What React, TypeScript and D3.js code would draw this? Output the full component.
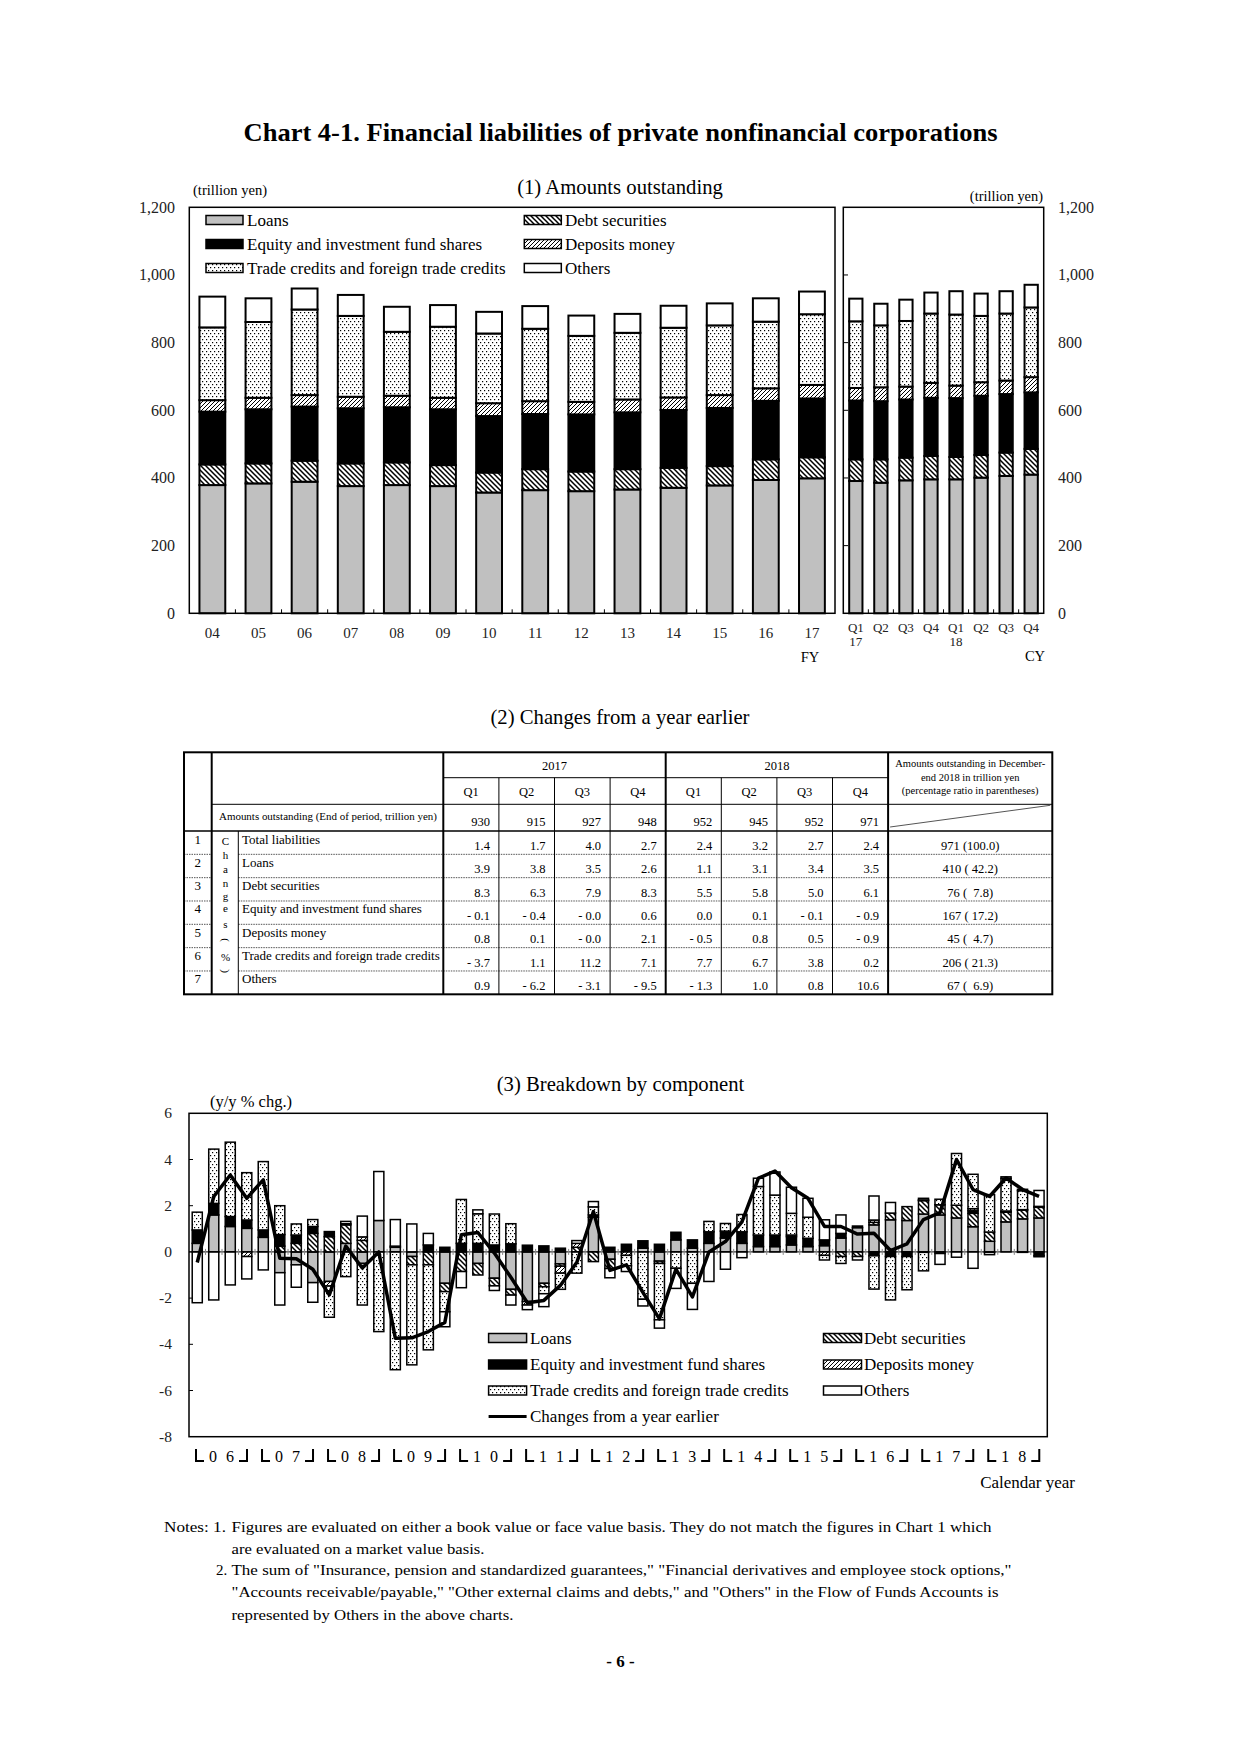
import React from "react";
import * as d3 from "d3";

const W = 1240;
const H = 1754;
const FONT = "'Liberation Serif','Times New Roman',Times,serif";

// ---------- Chart (1) data: amounts outstanding (trillion yen) ----------
const fyCats = ["04", "05", "06", "07", "08", "09", "10", "11", "12", "13", "14", "15", "16", "17"];
const fyLoans = [379, 384, 389, 376, 379, 376, 357, 364, 361, 366, 371, 378, 394, 399];
const fyDebt = [61, 59, 62, 67, 67, 62, 59, 62, 58, 60, 59, 57, 61, 62];
const fyEquity = [156, 160, 160, 163, 163, 165, 167, 163, 169, 168, 171, 172, 173, 174];
const fyDeposits = [34, 34, 34, 34, 34, 34, 38, 38, 37, 38, 37, 38, 37, 40];
const fyTrade = [215, 224, 253, 239, 189, 210, 206, 214, 195, 197, 206, 206, 197, 209];
const fyOthers = [91, 70, 62, 62, 74, 64, 64, 67, 60, 56, 65, 65, 69, 67];

const qCats = ["17Q1", "17Q2", "17Q3", "17Q4", "18Q1", "18Q2", "18Q3", "18Q4"];
const qTopLabels = ["Q1", "Q2", "Q3", "Q4", "Q1", "Q2", "Q3", "Q4"];
const qSubLabels = ["17", "", "", "", "18", "", "", ""];
const qLoans = [391, 386, 393, 396, 396, 401, 406, 410];
const qDebt = [64, 69, 67, 69, 66, 67, 69, 76];
const qEquity = [174, 172, 172, 172, 174, 175, 173, 167];
const qDeposits = [37, 41, 38, 44, 37, 40, 40, 45];
const qTrade = [197, 183, 194, 205, 210, 196, 198, 206];
const qOthers = [67, 64, 63, 62, 69, 66, 66, 67];

const amountTicks = [0, 200, 400, 600, 800, 1000, 1200];

// ---------- Table (2) data ----------
const tableYears = ["2017", "2018"];
const tableQuarters = ["Q1", "Q2", "Q3", "Q4", "Q1", "Q2", "Q3", "Q4"];
const amountsOutstanding = [930, 915, 927, 948, 952, 945, 952, 971];
const rowLabels = [
  "Total liabilities",
  "Loans",
  "Debt securities",
  "Equity and investment fund shares",
  "Deposits money",
  "Trade credits and foreign trade credits",
  "Others",
];
const chgTotal = [1.4, 1.7, 4.0, 2.7, 2.4, 3.2, 2.7, 2.4];
const chgLoans = [3.9, 3.8, 3.5, 2.6, 1.1, 3.1, 3.4, 3.5];
const chgDebt = [8.3, 6.3, 7.9, 8.3, 5.5, 5.8, 5.0, 6.1];
const chgEquity = [-0.1, -0.4, -0.0, 0.6, 0.0, 0.1, -0.1, -0.9];
const chgDeposits = [0.8, 0.1, -0.0, 2.1, -0.5, 0.8, 0.5, -0.9];
const chgTrade = [-3.7, 1.1, 11.2, 7.1, 7.7, 6.7, 3.8, 0.2];
const chgOthers = [0.9, -6.2, -3.1, -9.5, -1.3, 1.0, 0.8, 10.6];
const dec2018Amount = [971, 410, 76, 167, 45, 206, 67];
const dec2018Share = [100.0, 42.2, 7.8, 17.2, 4.7, 21.3, 6.9];

// ---------- Chart (3) data: contributions, y/y % chg, 2006Q1-2018Q4 ----------
const c3Years = ["06", "07", "08", "09", "10", "11", "12", "13", "14", "15", "16", "17", "18"];
const c3Loans = [0.37, 1.6, 1.1, 1.02, 0.63, -0.9, -0.56, -1.33, -1.28, 0.37, -0.5, 1.36, 0.2, -0.2, 0, -1.36, 0, -0.5, -1.14, -1.62, -2.15, -1.36, -0.52, 0, 1.5, -0.32, 0, 0.16, -0.4, 0.52, 0.16, 0.37, 0.6, 0.37, 0.23, 0.23, 0.3, 0.23, 0.27, 0.6, 1.05, 1.17, 1.39, 1.36, 1.64, 1.6, 1.47, 1.09, 0.46, 1.3, 1.43, 1.47];
const c3Debt = [0, 0, 0, 0, 0, 0.25, 0.37, 0.8, 0.66, 0.8, 0.5, 0, 0, -0.36, -0.56, -0.36, -0.85, -0.5, -0.33, -0.25, 0, -0.15, -0.1, 0.2, -0.42, -0.4, 0, 0, -0.1, 0, 0, 0, 0, 0, 0, 0, 0, 0, 0, -0.2, -0.2, 0.11, 0.29, 0.6, 0.58, 0.44, 0.55, 0.58, 0.4, 0.42, 0.38, 0.46];
const c3Equity = [0.58, 0.5, 0.43, 0.36, 0.32, 0.5, 0.36, 0.3, 0.22, 0.05, 0, 0, 0.05, 0, 0.3, 0.2, 0.37, 0.37, 0.3, 0.35, 0.29, 0.26, 0.16, 0, 0.1, 0.2, 0.33, 0.32, 0.33, 0.33, 0.36, 0.5, 0.3, 0.5, 0.5, 0.5, 0.36, 0.36, 0.25, 0.2, 0.07, -0.17, -0.2, -0.2, -0.02, -0.07, 0, 0.11, 0, 0.02, -0.02, -0.17];
const c3Deposits = [0, 0, 0, -0.2, 0, 0, 0, 0, -0.2, 0, 0.15, 0, 0, 0, 0, 0, 0, 0, 0, 0, -0.15, 0, -0.3, 0.17, 0, 0, -0.15, 0, 0, 0, 0, 0, 0, 0, 0, 0, 0.07, 0, -0.15, 0, 0, 0.1, 0, 0, 0.03, 0, 0, 0.09, -0.02, 0.03, 0.02, -0.04];
const c3Trade = [0.77, 2.35, 3.22, 2.05, 2.96, 1.25, 0.48, 0.3, -1.35, -1.07, -1.8, -3.45, -5.1, -4.33, -3.68, -0.87, 1.9, 1.28, 1.34, 0.87, 0, -0.3, -0.7, -0.92, 0.35, 0, -0.45, -2.05, -2.44, -0.71, -1.36, 0.45, 0.33, 0.75, 2.1, 1.73, 0.94, 0.91, -0.2, -0.3, 0, -1.44, -1.88, -1.44, -0.8, 0.24, 2.24, 1.49, 1.62, 1.41, 0.82, 0.04];
const c3Others = [-2.2, -2.08, -1.43, -0.97, -0.78, -1.4, -0.97, -0.85, 0, 0.1, 0.9, 2.12, 1.15, 1.21, 0.5, -0.65, -0.7, 0.17, -0.2, -0.43, -0.2, -0.56, 0, 0.12, 0.23, -0.4, -0.25, -0.29, -0.36, -0.87, -1.13, -1.28, -0.75, -0.25, 0.36, 1.0, 1.13, 0.82, 0.87, 0.8, -0.15, 1.04, 0.46, 0, 0.07, -0.47, -0.23, -0.71, -0.1, 0.07, 0.06, 0.69];
const c3Total = [-0.46, 2.4, 3.33, 2.32, 3.12, -0.27, -0.3, -0.75, -1.86, 0.25, -0.7, 0.0, -3.74, -3.72, -3.45, -3.05, 0.74, 0.84, -0.05, -1.1, -2.2, -2.1, -1.45, -0.45, 1.75, -0.8, -0.56, -1.75, -2.9, -0.75, -1.95, 0.0, 0.45, 1.3, 3.19, 3.5, 2.78, 2.32, 1.1, 1.1, 0.77, 0.81, 0.06, 0.35, 1.4, 1.7, 4.0, 2.7, 2.4, 3.2, 2.7, 2.4];
const c3Ticks = [6, 4, 2, 0, -2, -4, -6, -8];

const keys = ["loans", "debt", "equity", "deposits", "trade", "others"];
const seriesNames: Record<string, string> = {
  loans: "Loans",
  debt: "Debt securities",
  equity: "Equity and investment fund shares",
  deposits: "Deposits money",
  trade: "Trade credits and foreign trade credits",
  others: "Others",
};
const fills: Record<string, string> = {
  loans: "#c0c0c0",
  debt: "url(#pDebt)",
  equity: "#000",
  deposits: "url(#pDep)",
  trade: "url(#pTrade)",
  others: "#fff",
};

function buildRows(cats: string[], cols: number[][]) {
  return cats.map((c, i) => {
    const r: any = { cat: c };
    keys.forEach((k, j) => (r[k] = cols[j][i]));
    return r;
  });
}

const fmtChg = (v: number) => (v < 0 || Object.is(v, -0) ? "- " + Math.abs(v).toFixed(1) : v.toFixed(1));
const fmtShare = (a: number, s: number) =>
  `${a} (${s >= 100 ? s.toFixed(1) : s >= 10 ? " " + s.toFixed(1) : "  " + s.toFixed(1)})`;

export default function App() {
  const stack = d3.stack<any>().keys(keys).offset(d3.stackOffsetDiverging);

  // ---- chart 1 ----
  const y1 = d3.scaleLinear().domain([0, 1200]).range([613.3, 207.3]);
  const xFY = d3.scaleBand<string>().domain(fyCats).range([189.3, 835]).paddingInner(0.44).paddingOuter(0.22);
  const xQ = d3.scaleBand<string>().domain(qCats).range([843.3, 1043.7]).paddingInner(0.47).paddingOuter(0.235);
  const fyStack = stack(buildRows(fyCats, [fyLoans, fyDebt, fyEquity, fyDeposits, fyTrade, fyOthers]));
  const qStack = stack(buildRows(qCats, [qLoans, qDebt, qEquity, qDeposits, qTrade, qOthers]));

  // ---- chart 3 ----
  const idx = d3.range(c3Total.length).map(String);
  const y3 = d3.scaleLinear().domain([-8, 6]).range([1436.7, 1113.3]);
  const x3 = d3.scaleBand<string>().domain(idx).range([189, 1047.3]).paddingInner(0.39).paddingOuter(0.195);
  const c3Stack = stack(buildRows(idx, [c3Loans, c3Debt, c3Equity, c3Deposits, c3Trade, c3Others]));
  const line3 = d3
    .line<number>()
    .x((_, i) => (x3(String(i)) as number) + x3.bandwidth() / 2)
    .y((v) => y3(v));
  const qStep = (1047.3 - 189) / c3Total.length;

  // ---- table ----
  const tX0 = 184, tX1 = 211.7, tX2 = 238.3, tX3 = 443.3, colW = 55.6;
  const tXR = tX3 + 8 * colW;
  const tXEnd = 1052.3;
  const tY0 = 752.3, tY1 = 777.7, tY2 = 804.3, tY3 = 831, rowH = 23.33;
  const tYEnd = tY3 + 7 * rowH;
  const chgRows = [chgTotal, chgLoans, chgDebt, chgEquity, chgDeposits, chgTrade, chgOthers];
  const changesLetters: [string, number, boolean][] = [
    ["C", 845, false], ["h", 859, false], ["a", 873, false], ["n", 887, false], ["g", 900, false],
    ["e", 912, false], ["s", 928, false], ["(", 943, true], ["%", 961, false], [")", 974, true],
  ];

  const bars = (stk: any[], x: d3.ScaleBand<string>, y: d3.ScaleLinear<number, number>, sw: number) =>
    stk.map((s) => (
      <g key={s.key}>
        {s.map((d: any) => {
          const top = y(Math.max(d[0], d[1]));
          const bot = y(Math.min(d[0], d[1]));
          if (bot - top < 0.01) return null;
          return (
            <rect
              key={d.data.cat}
              x={x(d.data.cat)}
              y={top}
              width={x.bandwidth()}
              height={bot - top}
              fill={fills[s.key]}
              stroke="#000"
              strokeWidth={sw}
            />
          );
        })}
      </g>
    ));

  const legend1Left = ["loans", "equity", "trade"];
  const legend1Right = ["debt", "deposits", "others"];
  const legend1Y = [220, 244, 268];
  const legend3Y = [1338, 1364.5, 1390.5, 1416.5];

  return (
    <svg
      width={W}
      height={H}
      style={{ position: "absolute", left: 0, top: 0, background: "#fff" }}
      fontFamily={FONT}
    >
      <defs>
        <pattern id="pDebt" patternUnits="userSpaceOnUse" width="5" height="5">
          <rect width="5" height="5" fill="#fff" />
          <path d="M0,0 L5,5 M-1,4 L1,6 M4,-1 L6,1" stroke="#000" strokeWidth="1.5" />
        </pattern>
        <pattern id="pDep" patternUnits="userSpaceOnUse" width="4" height="4">
          <rect width="4" height="4" fill="#fff" />
          <path d="M0,4 L4,0 M-1,1 L1,-1 M3,5 L5,3" stroke="#000" strokeWidth="1" />
        </pattern>
        <pattern id="pTrade" patternUnits="userSpaceOnUse" width="4" height="6">
          <rect width="4" height="6" fill="#fff" />
          <rect x="0" y="0" width="1.2" height="1.2" fill="#000" />
          <rect x="2" y="3" width="1.2" height="1.2" fill="#000" />
        </pattern>
      </defs>
      <rect width={W} height={H} fill="#fff" />

      {/* Title */}
      <text x={620.5} y={141} textAnchor="middle" fontSize={25} fontWeight="bold" textLength={754} lengthAdjust="spacingAndGlyphs">
        Chart 4-1. Financial liabilities of private nonfinancial corporations
      </text>

      {/* ===== Chart (1) ===== */}
      <text x={620} y={194} textAnchor="middle" fontSize={20.7}>(1) Amounts outstanding</text>
      <text x={193} y={195} fontSize={14.6}>(trillion yen)</text>
      <text x={1043} y={201} textAnchor="end" fontSize={14.4}>(trillion yen)</text>
      {amountTicks.map((t) => (
        <g key={t}>
          <text x={175} y={y1(t) + 5.5} textAnchor="end" fontSize={16} fill="#222">{d3.format(",")(t)}</text>
          <text x={1058} y={y1(t) + 5.5} textAnchor="start" fontSize={16} fill="#222">{d3.format(",")(t)}</text>
          {t > 0 && t < 1200 && <line x1={843.3} x2={848} y1={y1(t)} y2={y1(t)} stroke="#000" strokeWidth={1} />}
        </g>
      ))}
      {bars(fyStack, xFY, y1, 2)}
      {bars(qStack, xQ, y1, 2)}
      {/* category ticks */}
      {fyCats.slice(1).map((c) => {
        const xx = (xFY(c) as number) - (xFY.step() * xFY.paddingInner()) / 2;
        return <line key={c} x1={xx} x2={xx} y1={y1(0)} y2={y1(0) - 4} stroke="#000" strokeWidth={1} />;
      })}
      {qCats.slice(1).map((c) => {
        const xx = (xQ(c) as number) - (xQ.step() * xQ.paddingInner()) / 2;
        return <line key={c} x1={xx} x2={xx} y1={y1(0)} y2={y1(0) - 4} stroke="#000" strokeWidth={1} />;
      })}
      <rect x={189.3} y={207.3} width={835 - 189.3} height={613.3 - 207.3} fill="none" stroke="#000" strokeWidth={1.5} />
      <rect x={843.3} y={207.3} width={1043.7 - 843.3} height={613.3 - 207.3} fill="none" stroke="#000" strokeWidth={1.5} />
      {fyCats.map((c) => (
        <text key={c} x={(xFY(c) as number) + xFY.bandwidth() / 2} y={638} textAnchor="middle" fontSize={15} fill="#222">
          {c}
        </text>
      ))}
      {qCats.map((c, i) => (
        <g key={c}>
          <text x={(xQ(c) as number) + xQ.bandwidth() / 2} y={632} textAnchor="middle" fontSize={13} fill="#222">
            {qTopLabels[i]}
          </text>
          {qSubLabels[i] && (
            <text x={(xQ(c) as number) + xQ.bandwidth() / 2} y={646} textAnchor="middle" fontSize={13} fill="#222">
              {qSubLabels[i]}
            </text>
          )}
        </g>
      ))}
      <text x={810} y={662} textAnchor="middle" fontSize={14.5}>FY</text>
      <text x={1035} y={661} textAnchor="middle" fontSize={14.5}>CY</text>
      {/* legend 1 */}
      {legend1Left.map((k, i) => (
        <g key={k}>
          <rect x={206} y={legend1Y[i] - 4.5} width={37} height={9} fill={fills[k]} stroke="#000" strokeWidth={1.5} />
          <text x={247} y={legend1Y[i] + 5.5} fontSize={17}>{seriesNames[k]}</text>
        </g>
      ))}
      {legend1Right.map((k, i) => (
        <g key={k}>
          <rect x={524.3} y={legend1Y[i] - 4.5} width={37} height={9} fill={fills[k]} stroke="#000" strokeWidth={1.5} />
          <text x={565} y={legend1Y[i] + 5.5} fontSize={17}>{seriesNames[k]}</text>
        </g>
      ))}

      {/* ===== Table (2) ===== */}
      <text x={620} y={724} textAnchor="middle" fontSize={20.7}>(2) Changes from a year earlier</text>
      <g fontSize={12.5}>
        {/* dotted separators */}
        {d3.range(1, 7).map((k) => (
          <g key={k}>
            <line x1={tX0} x2={tX1} y1={tY3 + k * rowH} y2={tY3 + k * rowH} stroke="#555" strokeWidth={1} strokeDasharray="1.5,1" />
            <line x1={tX2} x2={tXEnd} y1={tY3 + k * rowH} y2={tY3 + k * rowH} stroke="#555" strokeWidth={1} strokeDasharray="1.5,1" />
          </g>
        ))}
        <line x1={tX3} x2={tXR} y1={tY1} y2={tY1} stroke="#000" strokeWidth={1} />
        <line x1={tX1} x2={tXEnd} y1={tY2} y2={tY2} stroke="#000" strokeWidth={1} />
        <line x1={tX0} x2={tXEnd} y1={tY3} y2={tY3} stroke="#000" strokeWidth={1.5} />
        <line x1={tX1} x2={tX1} y1={tY0} y2={tYEnd} stroke="#000" strokeWidth={2} />
        <line x1={tX2} x2={tX2} y1={tY3} y2={tYEnd} stroke="#000" strokeWidth={1} />
        <line x1={tX3} x2={tX3} y1={tY0} y2={tYEnd} stroke="#000" strokeWidth={2} />
        {d3.range(1, 8).map((k) => (
          <line
            key={k}
            x1={tX3 + k * colW}
            x2={tX3 + k * colW}
            y1={k === 4 ? tY0 : tY1}
            y2={tYEnd}
            stroke="#000"
            strokeWidth={k === 4 ? 2 : 1}
          />
        ))}
        <line x1={tXR} x2={tXR} y1={tY0} y2={tYEnd} stroke="#000" strokeWidth={2} />
        <rect x={tX0} y={tY0} width={tXEnd - tX0} height={tYEnd - tY0} fill="none" stroke="#000" strokeWidth={2} />
        <line x1={tXR + 2} x2={tXEnd - 2} y1={tY3 - 4} y2={tY2 + 1} stroke="#555" strokeWidth={1} />

        {tableYears.map((yr, i) => (
          <text key={yr} x={tX3 + (i * 4 + 2) * colW} y={770} textAnchor="middle">{yr}</text>
        ))}
        {tableQuarters.map((q, i) => (
          <text key={i} x={tX3 + (i + 0.5) * colW} y={796} textAnchor="middle">{q}</text>
        ))}
        <text x={(tXR + tXEnd) / 2} y={767} textAnchor="middle" fontSize={10.5}>Amounts outstanding in December-</text>
        <text x={(tXR + tXEnd) / 2} y={780.5} textAnchor="middle" fontSize={10.5}>end 2018 in trillion yen</text>
        <text x={(tXR + tXEnd) / 2} y={794} textAnchor="middle" fontSize={10.5}>(percentage ratio in parentheses)</text>
        <text x={219} y={820} fontSize={10.5} textLength={218} lengthAdjust="spacingAndGlyphs">
          Amounts outstanding (End of period, trillion yen)
        </text>
        {amountsOutstanding.map((v, i) => (
          <text key={i} x={tX3 + (i + 1) * colW - 9} y={826} textAnchor="end">{v}</text>
        ))}
        {rowLabels.map((lab, r) => (
          <g key={lab}>
            <text x={(tX0 + tX1) / 2} y={tY3 + r * rowH + 12.5} textAnchor="middle" fontSize={13}>{r + 1}</text>
            <text x={242} y={tY3 + r * rowH + 12.5} fontSize={13}>{lab}</text>
            {chgRows[r].map((v, i) => (
              <text key={i} x={tX3 + (i + 1) * colW - 9} y={tY3 + r * rowH + 19} textAnchor="end" style={{ whiteSpace: "pre" }}>
                {fmtChg(chgRows[r][i])}
              </text>
            ))}
            <text x={(tXR + tXEnd) / 2} y={tY3 + r * rowH + 19} textAnchor="middle" style={{ whiteSpace: "pre" }}>
              {fmtShare(dec2018Amount[r], dec2018Share[r])}
            </text>
          </g>
        ))}
        {changesLetters.map(([ch, yy, rot], i) =>
          rot ? (
            <text key={i} x={0} y={0} fontSize={11} textAnchor="middle" transform={`translate(225.5,${yy - 3}) rotate(90)`} dy="3.5">
              {ch}
            </text>
          ) : (
            <text key={i} x={225.5} y={yy} fontSize={11} textAnchor="middle">{ch}</text>
          )
        )}
      </g>

      {/* ===== Chart (3) ===== */}
      <text x={620.5} y={1091} textAnchor="middle" fontSize={20.7}>(3) Breakdown by component</text>
      <text x={210} y={1107} fontSize={16.5}>(y/y % chg.)</text>
      {c3Ticks.map((t) => (
        <g key={t}>
          <text x={172} y={y3(t) + 5} textAnchor="end" fontSize={15.5} fill="#222">{t}</text>
          {t !== 6 && t !== -8 && <line x1={189} x2={193} y1={y3(t)} y2={y3(t)} stroke="#000" strokeWidth={1} />}
        </g>
      ))}
      {bars(c3Stack, x3, y3, 1.5)}
      <line x1={189} x2={1047.3} y1={y3(0)} y2={y3(0)} stroke="#000" strokeWidth={1} />
      {d3.range(1, c3Total.length).map((k) => (
        <line key={k} x1={189 + k * qStep} x2={189 + k * qStep} y1={y3(0) - 3} y2={y3(0) + 3} stroke="#888" strokeWidth={1} />
      ))}
      <path d={line3(c3Total) as string} fill="none" stroke="#000" strokeWidth={3.5} strokeLinejoin="round" />
      <rect x={189} y={1113.3} width={1047.3 - 189} height={1436.7 - 1113.3} fill="none" stroke="#000" strokeWidth={1.5} />
      {/* legend 3 */}
      {["loans", "equity", "trade"].map((k, i) => (
        <g key={k}>
          <rect x={488.6} y={legend3Y[i] - 4.5} width={38} height={9} fill={fills[k]} stroke="#000" strokeWidth={1.5} />
          <text x={530} y={legend3Y[i] + 5.5} fontSize={17}>{seriesNames[k]}</text>
        </g>
      ))}
      <line x1={488.6} x2={526.6} y1={legend3Y[3]} y2={legend3Y[3]} stroke="#000" strokeWidth={3} />
      <text x={530} y={legend3Y[3] + 5.5} fontSize={17}>Changes from a year earlier</text>
      {["debt", "deposits", "others"].map((k, i) => (
        <g key={k}>
          <rect x={823.5} y={legend3Y[i] - 4.5} width={38} height={9} fill={fills[k]} stroke="#000" strokeWidth={1.5} />
          <text x={864} y={legend3Y[i] + 5.5} fontSize={17}>{seriesNames[k]}</text>
        </g>
      ))}
      {/* year labels with brackets */}
      {c3Years.map((yr, j) => {
        const x0 = 189 + 4 * qStep * j;
        return (
          <g key={yr}>
            <path d={`M${x0 + 7},1449 V1461 H${x0 + 15}`} fill="none" stroke="#000" strokeWidth={2} />
            <path d={`M${x0 + 58},1449 V1461 H${x0 + 50}`} fill="none" stroke="#000" strokeWidth={2} />
            <text x={x0 + 24} y={1462} textAnchor="middle" fontSize={16}>{yr[0]}</text>
            <text x={x0 + 41} y={1462} textAnchor="middle" fontSize={16}>{yr[1]}</text>
          </g>
        );
      })}
      <text x={1075} y={1488} textAnchor="end" fontSize={17}>Calendar year</text>

      {/* Notes */}
      <g fontSize={15}>
        <text x={164} y={1532} textLength={62} lengthAdjust="spacingAndGlyphs">Notes: 1.</text>
        <text x={231.5} y={1532} textLength={760} lengthAdjust="spacingAndGlyphs">
          Figures are evaluated on either a book value or face value basis. They do not match the figures in  Chart 1 which
        </text>
        <text x={231.5} y={1553.5} textLength={253} lengthAdjust="spacingAndGlyphs">are evaluated on a market value basis.</text>
        <text x={216} y={1575}>2.</text>
        <text x={231.5} y={1575} textLength={780} lengthAdjust="spacingAndGlyphs">
          The sum of "Insurance, pension and standardized guarantees," "Financial derivatives and employee stock options,"
        </text>
        <text x={231.5} y={1597} textLength={767} lengthAdjust="spacingAndGlyphs">
          "Accounts receivable/payable," "Other external claims and debts," and "Others" in the Flow of Funds Accounts is
        </text>
        <text x={231.5} y={1619.5} textLength={282} lengthAdjust="spacingAndGlyphs">represented by Others in the above charts.</text>
      </g>
      <text x={620.5} y={1667} textAnchor="middle" fontSize={17} fontWeight="bold">- 6 -</text>
    </svg>
  );
}
